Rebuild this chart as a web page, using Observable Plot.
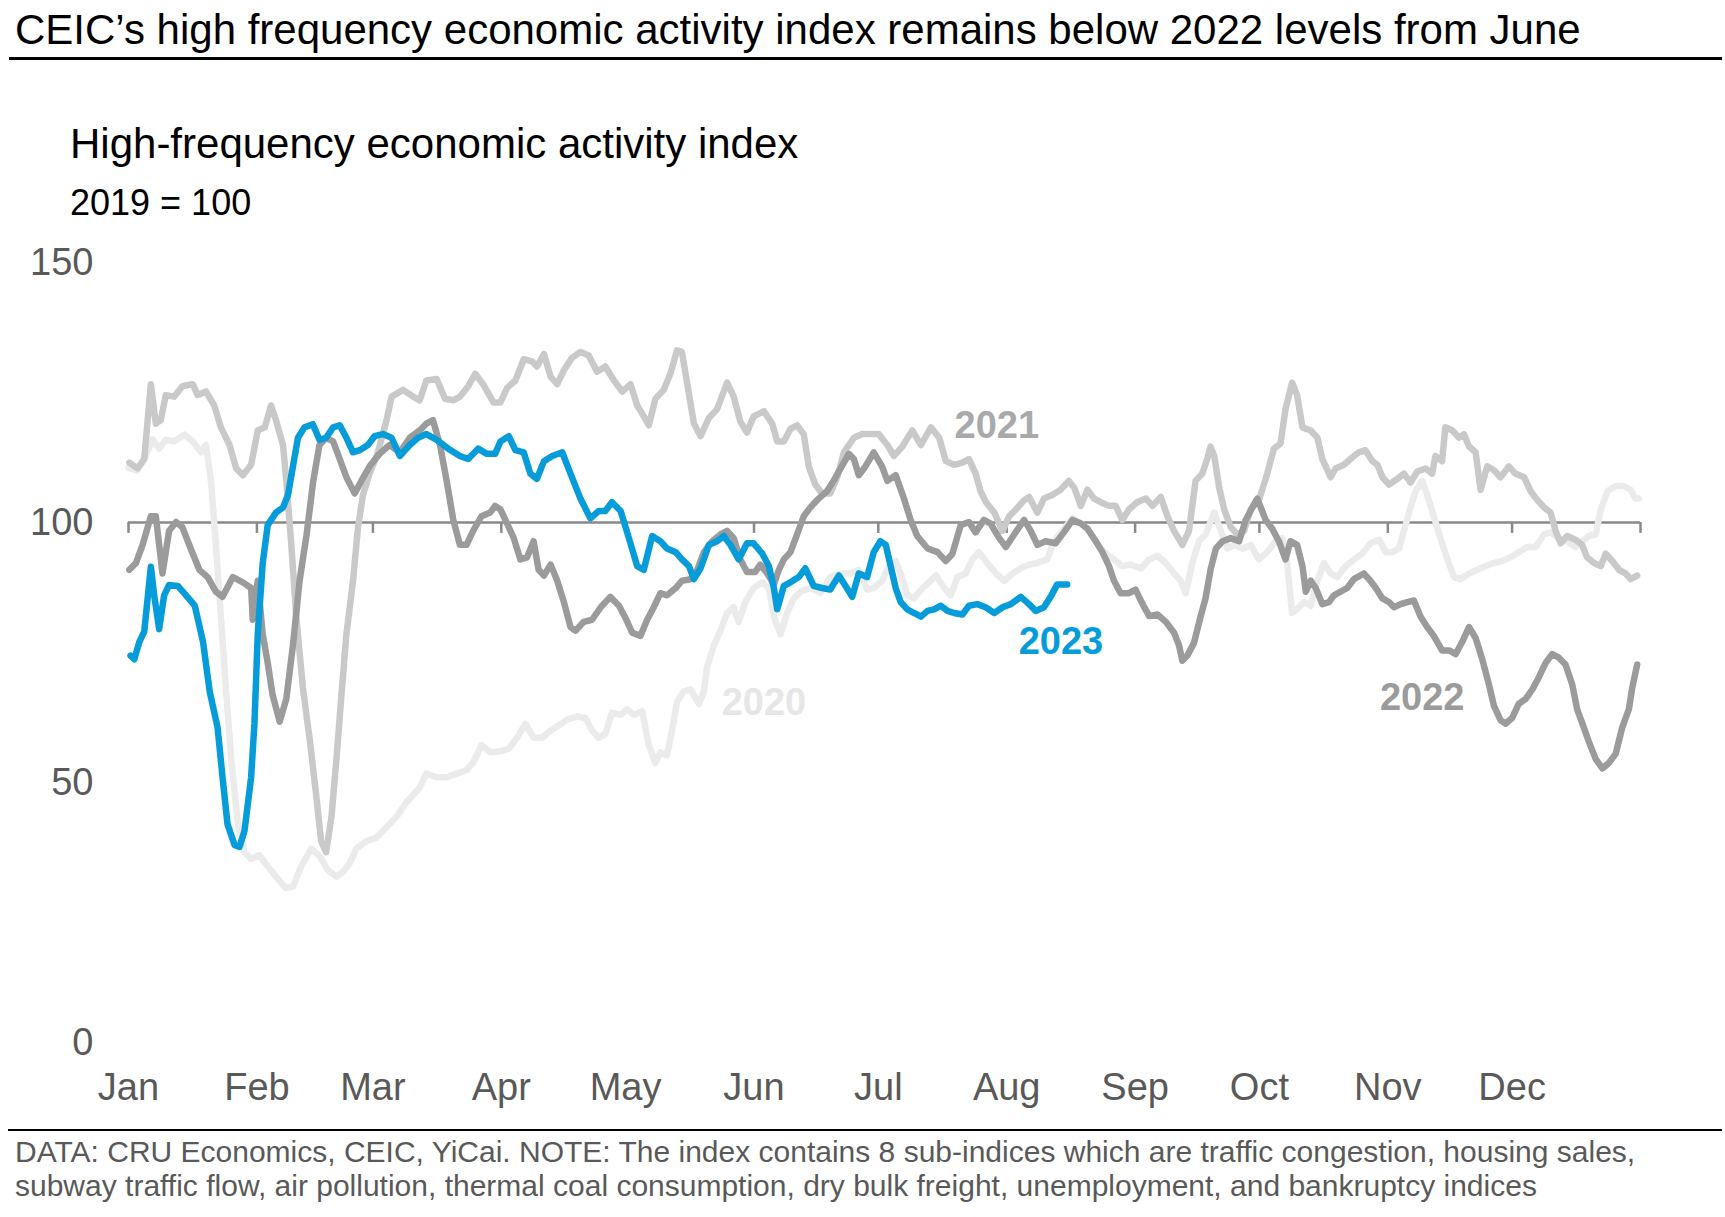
<!DOCTYPE html>
<html><head><meta charset="utf-8">
<script src="https://cdn.jsdelivr.net/npm/d3@7"></script>
<script src="https://cdn.jsdelivr.net/npm/@observablehq/plot@0.6"></script>
<style>
body{margin:0;background:#fff;font-family:"Liberation Sans",Arial,sans-serif;}
#wrap{position:relative;width:1725px;height:1217px;overflow:hidden;background:#fff;}
.t{position:absolute;white-space:nowrap;line-height:1;}
</style></head><body><div id="wrap">
<div class="t" style="left:15px;top:9px;font-size:42px;color:#000">CEIC’s high frequency economic activity index remains below 2022 levels from June</div>
<div style="position:absolute;left:9px;top:57px;width:1713px;height:3px;background:#000"></div>
<div class="t" style="left:70px;top:123px;font-size:42px;color:#000">High-frequency economic activity index</div>
<div class="t" style="left:70px;top:185px;font-size:36px;color:#000">2019 = 100</div>
<div id="chart" style="position:absolute;left:0;top:230px"></div>
<div style="position:absolute;left:8px;top:1129px;width:1714px;height:2px;background:#000"></div>
<div class="t" style="left:15px;top:1135px;font-size:30px;line-height:34px;color:#595959">DATA: CRU Economics, CEIC, YiCai. NOTE: The index contains 8 sub-indices which are traffic congestion, housing sales,<br>subway traffic flow, air pollution, thermal coal consumption, dry bulk freight, unemployment, and bankruptcy indices</div>
</div>
<script>
const monthLabels = ["Jan","Feb","Mar","Apr","May","Jun","Jul","Aug","Sep","Oct","Nov","Dec"];
const monthStarts = [0,31,59,90,120,151,181,212,243,273,304,334];
const tickDays = [0,31,59,90,120,151,181,212,243,273,304,334,365];
const yTicks = [0,50,100,150];

// [day of year, index value]
const s2020 = [[0,110.5],[2,110],[4,112.5],[5.8,116],[7.4,114.2],[9,115.9],[11,115.6],[13.5,116.9],[15.5,115.6],[17.5,113.5],[18.7,114.9],[19.9,108],[21.1,95.7],[22.3,81.9],[23.5,68.2],[24.8,54.5],[26.4,42.1],[28,36.6],[29.6,35.3],[31.6,36],[33.6,33.9],[35.6,31.9],[38,29.7],[39.7,30],[41.7,33.9],[44.1,37.3],[46.1,35.9],[48.1,33.2],[50.2,31.9],[51.8,32.8],[53.4,34.5],[55,37.3],[57.4,38.7],[59.8,39.4],[62.3,41.4],[64.7,43.4],[67.1,46.2],[68.7,47.6],[70.3,49],[71.9,51.7],[74.4,51],[76.8,51],[79.2,51.7],[81.6,52.4],[83.2,53.8],[85.2,57.2],[87.3,55.8],
[89.8,56],[91.8,56.5],[93.8,58.6],[95.8,61.3],[97.8,58.6],[99.9,58.6],[101.9,60],[103.9,61],[105.9,62.1],[108.3,62.7],[110.3,62.4],[111.9,60],[113.5,58.6],[115.1,59.3],[116.7,63.4],[118.8,63],[120.4,64.1],[122,63],[124,63.7],[125.6,57.2],[127.2,53.8],[128.4,55.8],[130,55.2],[131.2,60],[132.4,65.5],[134,67.5],[135.7,67.9],[137.7,65.1],[138.9,67.5],[139.7,72.3],[141.3,76.4],[142.9,79.2],[144.5,82.6],[146.1,83.7],[147.3,80.9],[148.9,84.7],[150.9,87.4],[153,88.5],[154.6,87.4],[155.8,81.9],[157.4,78.5],[159,82.6],[160.6,85.4],[162.2,86.7],[164.6,87.4],[167,86.4],[169.4,89.5],[171.9,90.2],[174.3,90.2],[176.3,90.9],[178.3,87.1],[179.9,87.4],[181.9,88.8],
[183.6,91.6],[185.2,92.6],[186.4,90.2],[188,86],[189.6,85.4],[191.7,87.4],[193.3,88.5],[194.9,89.8],[196.9,87.4],[198.5,86],[200.1,89.5],[202.1,90.2],[203.7,92.9],[205.3,94.3],[207.3,92.2],[209.4,90.2],[211.4,88.8],[213.4,90.2],[215.4,91.2],[217.4,91.9],[219.4,92.2],[221.8,92.9],[223.4,96.4],[225.4,98.4],[227.9,100.8],[229.9,99.8],[231.5,98.8],[233.5,96.4],[235.5,94.3],[237.9,92.9],[239.9,91.6],[241.9,91.9],[244.4,91.2],[246.4,92.9],[248.4,93.6],[250.4,92.2],[252.4,90.2],[254,88.8],[255.2,86.4],[256.8,92.2],[258.4,96.4],[260,97.7],[262.1,101.9],[263.7,98.4],[265.3,95],[266.9,95.7],[268.9,95],[270.9,95.7],[272.9,92.9],
[274.9,94.3],[276.9,96.4],[278.5,97],[279.7,92.2],[280.9,82.6],[282.1,83.3],[283.8,84.7],[285.4,84],[287,88.8],[288.6,92.2],[290.2,90.2],[291.8,89.5],[293.8,91.6],[295.8,92.9],[297.8,94],[299.8,96],[301.9,96.7],[303.5,94.3],[305.1,94.3],[306.7,95],[307.9,98.4],[309.1,101.9],[310.7,106],[312.3,108],[313.5,105.3],[315.1,101.2],[316.7,97],[318.4,92.9],[320,89.5],[321.6,89.1],[323.6,90.2],[325.6,90.9],[327.6,91.6],[329.6,92.2],[331.6,92.6],[333.6,93.3],[335.6,94.3],[337.7,95.3],[339.7,95.3],[341.7,97.7],[343.3,98.1],[345.3,97],[347.3,96.4],[349.3,95.3],[350.9,96.4],[352.5,97.4],[354.2,97.7],[355.4,102.5],[357,106],[359,107],[361,107],[362.6,106.3],[363.8,104.6],[364.6,104.6]];

const s2021 = [[0.2,111.5],[2.2,110.4],[3.8,112.2],[5.4,126.6],[6.6,119],[7.8,119.7],[9,124.5],[11,124.2],[13,126.2],[15.5,126.6],[16.7,124.5],[18.7,125.2],[20.7,122.5],[22.3,118.3],[24.4,114.9],[26,110.4],[27.6,109.1],[29.6,111.1],[31.2,117.7],[32.9,118.3],[34.4,122.5],[35.6,119.7],[37.3,114.9],[38.1,108],[39.3,95.7],[40.5,81.9],[42.1,68.2],[43.8,57.9],[45.3,47.6],[46.5,38.7],[47.7,36.6],[49,43.4],[50.2,54.5],[51.4,66.8],[52.6,78.5],[54.2,88.8],[55.4,99.1],[56.6,105.3],[58.2,109.4],[60.2,113.5],[62.3,119.7],[63.5,124.2],[66.3,125.5],[68.7,124.2],[70.3,123.5],[71.9,127.3],[74.4,127.6],[76.4,123.8],[78.4,123.5],[80,124.2],[82,126.2],[83.7,128.6],[85.6,126.6],[88.1,123.1],
[89.8,123.1],[91.4,125.9],[93.4,127.3],[95.4,131.4],[97.4,131],[98.6,130],[100.3,132.4],[101.9,128],[103.5,126.6],[105.1,129.3],[107.1,131.7],[109.1,132.8],[111.1,132.1],[113.1,129],[115.1,130],[117.2,127.3],[119.2,125.2],[121.2,126.6],[122.8,122.5],[124.4,120.4],[125.6,118.7],[127.2,123.8],[129.2,125.5],[130.8,128.6],[132.4,133.1],[133.6,132.8],[134.9,126.6],[136.5,119],[138.1,116.6],[140.1,120.1],[142.1,121.8],[144.5,126.9],[146.1,124.2],[147.7,119.4],[149.3,117.3],[150.9,120.4],[153.4,121.4],[155.4,119],[156.6,115.6],[158.2,115.6],[159.8,118],[161.4,118.7],[163,117],[164.2,110.8],[165.8,107.3],[167.4,105.6],[169.4,105.6],[171.1,108.7],[172.7,113.5],[175.1,116.3],[177.1,117],[179.1,117],[181.1,117],
[183.2,114.9],[184.8,112.8],[186.8,114.6],[189.2,117.7],[191.3,114.9],[193.7,118.3],[195.7,116.3],[197.3,111.8],[199.3,111.1],[201.3,111.5],[202.9,112.2],[204.5,109.4],[205.7,106],[207,103.9],[209,101.9],[211,98.4],[212.6,101.2],[214.2,102.5],[216.2,104.3],[217.4,104.9],[219.4,101.9],[221,104.6],[223,105.3],[225,106.3],[227,108],[228.3,106.7],[229.9,103.2],[231.5,106.3],[233.1,104.6],[234.7,103.9],[236.7,103.2],[238.3,103.2],[239.9,100.5],[241.5,102.5],[243.5,103.9],[245.6,104.6],[247.2,103.2],[249.2,104.9],[250.8,101.2],[252.4,98.4],[254.4,95.7],[256,98.4],[257.6,108],[259.2,109.4],[260.4,112.2],[261.2,114.6],[262.1,112.8],[263.3,106.7],[264.5,102.5],[266.1,99.1],[267.7,97.7],[269.3,98.4],[270.9,102.5],[272.9,104.3],
[274.9,109.4],[276.5,114.2],[278.1,115.2],[279.3,121.8],[280.9,126.9],[282.1,124.5],[283.4,118.3],[285.4,117.7],[287,116.3],[288.2,112.2],[290.2,108.7],[291.4,110.4],[293.4,111.1],[295.4,112.5],[297,113.5],[298.6,113.9],[300.3,111.8],[301.5,111.1],[302.7,108.7],[304.3,107.3],[306.3,108.4],[307.9,109.4],[309.5,107.7],[311.1,109.8],[313.1,110.4],[314.7,109.4],[315.5,112.8],[317.1,111.8],[317.9,118.3],[319.6,117.7],[321.2,116.3],[322.4,117],[323.6,114.6],[325.2,113.5],[326.4,106.3],[328,110.8],[329.6,110.1],[331.2,108.7],[333.2,110.8],[334.8,109.4],[336.9,108.7],[338.5,106],[340.1,104.3],[341.7,102.9],[343.3,101.9],[344.5,98.4],[345.7,96],[347.3,97.4],[349.3,96.7],[350.9,95.7],[352.1,93.3],[353.8,92.2],[355.4,91.6],[356.6,94],[358.2,92.6],[359.8,90.9],[361.4,90.2],[362.6,89.1],[364.2,89.8]];

const s2022 = [[0.2,90.9],[1.8,92.2],[3.4,95.7],[5.4,101.2],[6.6,101.2],[8.2,90.2],[9.8,98.4],[11.5,100.1],[13,99.1],[15,95],[17.1,90.9],[19.1,89.5],[21.1,86.7],[22.7,85.7],[25.2,89.5],[27.6,88.5],[29.6,87.4],[30,81.3],[31.2,88.8],[32.4,78.5],[33.6,73],[34.8,66.8],[36.5,61.7],[38.1,66.1],[39.7,76.4],[41.3,88.8],[43,97.7],[44.6,108],[46.1,114.9],[47.7,116.3],[49.4,115.6],[51,112.2],[52.6,108.7],[54.6,105.6],[56.2,108],[58.2,110.8],[60.6,113.2],[63,114.9],[65.5,113.5],[67.9,116.3],[70.3,117.7],[71.9,119],[73.5,119.7],[75.2,114.9],[76.8,108],[78.4,100.5],[80,95.7],[81.6,95.7],[83.2,98.4],[85.2,101.2],[87.3,101.9],[88.5,103.2],
[89.8,102.5],[91.4,99.8],[93,97],[94.6,92.9],[96.2,93.3],[97.8,96.4],[99,90.9],[100.3,89.8],[101.9,91.9],[103.5,88.8],[105.1,84.7],[106.7,79.9],[107.9,79.2],[109.9,80.9],[111.9,81.3],[114,83.7],[116.3,85.7],[118.4,84],[120,81.6],[121.6,78.8],[123.6,78.2],[125.2,81.3],[126.8,83.7],[128.4,86.4],[130,86],[132.1,87.4],[133.6,88.8],[135.7,89.1],[137.3,90.9],[138.9,94.3],[140.9,96.4],[142.9,97.7],[144.5,98.4],[146.1,97],[147.7,92.9],[149.3,90.5],[151.3,90.5],[152.5,91.9],[154.2,90.2],[155.8,88.1],[157,90.9],[158.2,92.9],[159.8,94.3],[161.4,97.7],[163,101.2],[164.6,102.9],[166.6,104.6],[168.6,106],[170.2,108],[171.9,110.4],[173.9,113.2],[175.1,112.2],[176.3,109.1],[177.9,110.8],[179.9,113.5],[181.9,110.8],
[183.2,108],[185.2,109.1],[187.2,104.6],[188.8,100.5],[190.4,97.4],[192.9,95],[195.3,94.3],[197.3,92.6],[198.9,94],[200.9,99.5],[202.9,100.1],[204.5,98.1],[206.5,100.5],[208.1,99.8],[210.2,97],[211.8,95.3],[213.8,97.7],[216.2,100.5],[217.8,98.4],[219.4,95.7],[221.4,96.4],[223.8,96],[225.8,98.1],[227.9,100.5],[229.9,99.8],[231.5,98.8],[233.5,96.4],[235.1,94.3],[236.7,91.6],[237.9,88.8],[239.5,86.4],[241.5,86.4],[243.1,87.1],[244.8,84.3],[246.4,82],[248.4,82.3],[250.4,80.9],[252.4,78.8],[253.6,76.4],[254.4,73.4],[255.6,74.4],[257.2,76.8],[258.8,81.9],[260,85.4],[261.2,90.9],[262.5,95],[264.1,96.4],[266.1,97],[268.1,96.4],[269.7,100.5],[271.3,102.9],[272.5,104.6],
[274.5,100.5],[276.1,98.8],[277.7,96.4],[279.3,92.9],[280.5,96.4],[282.1,95.7],[283.4,91.6],[284.2,86.7],[285.4,88.8],[286.6,87.4],[288.2,84.3],[289.8,84.7],[291,86],[292.6,86.7],[294.2,87.4],[295.8,89.1],[298.2,90.2],[299.8,88.8],[301.1,87.4],[302.7,85.4],[304.3,84.7],[305.5,83.7],[307.1,84.3],[308.7,84.7],[310.3,85],[311.9,81.9],[313.5,79.9],[315.1,78.2],[317.1,75.4],[318.8,75.4],[320.4,74.7],[322,77.1],[323.6,79.9],[325.2,77.8],[326.8,73.7],[328.4,68.9],[329.6,64.8],[331.2,62],[332.4,61.3],[334,62.4],[335.6,65.1],[337.3,66.1],[338.9,67.9],[340.5,70.3],[342.1,73],[343.7,74.7],[345.3,74],[346.9,72.7],[348.5,68.9],[349.7,64.1],[351.3,60.6],[352.5,57.9],[354.2,54.5],[355.8,52.7],[357.4,53.8],[359,55.5],[360.6,60.6],[362.2,64.1],[363,68.2],[364.2,72.7]];

const s2023 = [[0.5,74.4],[1.4,73.7],[2.6,77],[3.8,79],[5.4,91.5],[6.2,86],[7.4,79.5],[8.6,86],[9.8,88],[11.9,87.8],[13.9,86],[16,84],[18,77],[19.6,67.5],[21.5,60.6],[22.7,51],[23.9,42],[25.6,38],[26.8,37.6],[28,40.7],[29.6,51],[30.4,61.3],[31.2,78.5],[32.4,92.2],[33.6,99.5],[35.6,101.9],[37.3,102.9],[38.5,105.3],[39.7,110.8],[40.9,116.3],[42.5,118.3],[44.5,118.9],[46.1,115.9],[47.7,116.3],[49.4,118.3],[51,118.7],[52.6,116.3],[54.2,113.5],[55.8,113.9],[57.8,114.9],[59.4,116.6],[61.4,117],[63.5,116.3],[65.5,112.8],[67.9,114.9],[69.9,116.3],[71.9,117],[74.4,115.9],[77.2,114.2],[80,112.8],[82,112.2],[84.4,114.2],[86.5,113.2],[88.5,113.2],
[89.8,115.6],[91.8,116.6],[93.4,113.9],[95.4,113.5],[97,109.4],[98.6,108.4],[100.3,111.8],[102.3,112.8],[104.7,113.5],[106.7,109.4],[109.1,104.6],[111.5,100.8],[113.5,102.2],[115.1,102.2],[116.7,103.9],[118.8,102.2],[120.8,97],[122.8,91.6],[124.4,90.9],[126.4,97.4],[128.4,96.4],[130,95],[132.1,94.3],[133.6,92.9],[135.3,91.6],[136.5,89.1],[138.1,91.2],[140.1,95.7],[142.1,96.4],[143.7,97.4],[145.3,95.7],[147.3,92.9],[149.3,96],[150.9,96],[153,94],[154.6,91.6],[155.8,87.4],[156.6,83.3],[158.2,87.8],[159.8,88.5],[161.8,89.5],[163.4,91.2],[165.4,87.8],[167.4,87.4],[169.4,87.1],[171.5,89.8],[173.1,87.8],[174.7,85.7],[176.3,90.2],[178.3,89.5],[179.9,94.3],[181.5,96.4],
[182.8,95.7],[184,91.6],[185.2,87.4],[186.4,84.7],[188,83.3],[189.6,82.6],[191.3,81.9],[192.9,83],[194.5,83.3],[196.1,84],[197.7,83],[199.3,82.6],[201.3,82.3],[202.9,84],[204.9,84.3],[206.9,83.7],[209,82.6],[211,83.7],[213,84.3],[215.4,85.7],[217.4,84.3],[219,83],[221,83.7],[222.6,85.7],[224.2,88.1],[226.6,88.1]];

const seriesStyles = [
  {data: s2020, color: "#ebebeb"},
  {data: s2021, color: "#c9c9c9"},
  {data: s2022, color: "#9b9b9b"},
  {data: s2023, color: "#069cda"}
];
const labels = [
  {year: "2020", day: 153.4, value: 65.4, color: "#e6e6e6"},
  {year: "2021", day: 209.6, value: 118.5, color: "#a9a9a9"},
  {year: "2023", day: 225.1, value: 77.1, color: "#069cda"},
  {year: "2022", day: 312.3, value: 66.3, color: "#9b9b9b"}
];

const marks = [
  Plot.ruleY([100], {stroke: "#898989", strokeWidth: 2.5}),
  Plot.ruleX(tickDays, {x: d => d, y1: 100, y2: 97.9, stroke: "#898989", strokeWidth: 2.5}),
  Plot.axisY({ticks: yTicks, tickSize: 0, tickPadding: 35, fontSize: 38, color: "#595959", label: null}),
  Plot.axisX({ticks: monthStarts, tickFormat: d => monthLabels[monthStarts.indexOf(d)], tickSize: 0, tickPadding: 31, fontSize: 38, color: "#595959", label: null})
];
for (const s of seriesStyles) {
  marks.push(Plot.line(s.data, {x: d => d[0], y: d => d[1], stroke: s.color, strokeWidth: 6.5, strokeLinejoin: "round", strokeLinecap: "round"}));
}
for (const l of labels) {
  marks.push(Plot.text([l], {x: "day", y: "value", text: "year", fill: l.color, fontSize: 38, fontWeight: "bold", textAnchor: "middle", lineAnchor: "middle"}));
}

const chart = Plot.plot({
  width: 1725,
  height: 890,
  marginTop: 32,
  marginBottom: 78,
  marginLeft: 128,
  marginRight: 85,
  x: {domain: [0, 365]},
  y: {domain: [0, 150]},
  style: {fontFamily: "Liberation Sans, Arial, sans-serif", background: "transparent", overflow: "visible"},
  marks
});
document.getElementById("chart").appendChild(chart);
</script>
</body></html>
